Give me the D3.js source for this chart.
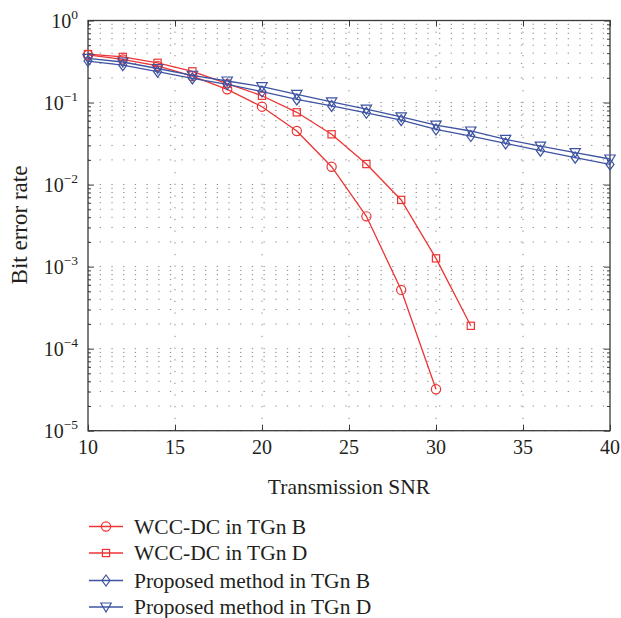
<!DOCTYPE html>
<meta charset="utf-8">
<script src="https://d3js.org/d3.v7.min.js"></script>
<style>
body { margin: 0; background: #fff; }
text { font-family: "Liberation Serif", "DejaVu Serif", serif; fill: #231f20; }
</style>
<div id="chart"></div>
<script>
// data
var snrLong = [10, 12, 14, 16, 18, 20, 22, 24, 26, 28, 30, 32, 34, 36, 38, 40];
var wccB = [0.38, 0.335, 0.28, 0.21, 0.145, 0.089, 0.045, 0.0165, 0.0041, 0.00052, 0.000032];
var wccD = [0.39, 0.36, 0.305, 0.24, 0.17, 0.121, 0.076, 0.041, 0.0178, 0.0065, 0.00126, 0.00019];
var propB = [0.32, 0.285, 0.238, 0.197, 0.167, 0.136, 0.109, 0.091, 0.075, 0.061, 0.047, 0.039, 0.0318, 0.0259, 0.0213, 0.0176];
var propD = [0.345, 0.312, 0.26, 0.215, 0.183, 0.156, 0.126, 0.102, 0.083, 0.067, 0.053, 0.045, 0.0356, 0.0295, 0.0245, 0.0205];
var seriesNames = ["WCC-DC in TGn B", "WCC-DC in TGn D", "Proposed method in TGn B", "Proposed method in TGn D"];
var xTicks = [10, 15, 20, 25, 30, 35, 40];
var yDecades = [-5, -4, -3, -2, -1, 0];

var red = "#ec3434", blue = "#3e54a3";
var series = [
  {name: seriesNames[0], vals: wccB, color: red, marker: "circle"},
  {name: seriesNames[1], vals: wccD, color: red, marker: "square"},
  {name: seriesNames[2], vals: propB, color: blue, marker: "diamond"},
  {name: seriesNames[3], vals: propD, color: blue, marker: "triangle"}
];

var W = 621, H = 618;
var pl = 88, pr = 610, pt = 20.5, pb = 430.7;

var svg = d3.select("#chart").append("svg")
  .attr("width", W).attr("height", H);

var x = d3.scaleLinear().domain([10, 40]).range([pl, pr]);
var y = d3.scaleLog().domain([1e-5, 1]).range([pb, pt]);

var majorY = yDecades.map(function(e) { return Math.pow(10, e); });
var minorY = [];
yDecades.slice(0, -1).forEach(function(e) {
  for (var k = 2; k <= 9; k++) minorY.push(k * Math.pow(10, e));
});

// grid
var grid = svg.append("g").attr("stroke", "#8a8a8a").attr("stroke-width", 1)
  .attr("stroke-dasharray", "1.3,10.4");
grid.selectAll("line.h").data(majorY.concat(minorY)).enter().append("line")
  .attr("x1", pl).attr("x2", pr)
  .attr("y1", function(d) { return y(d); }).attr("y2", function(d) { return y(d); });
grid.selectAll("line.v").data(xTicks.slice(1, -1)).enter().append("line")
  .attr("x1", function(d) { return x(d); }).attr("x2", function(d) { return x(d); })
  .attr("y1", pb).attr("y2", pt);

// axes (ticks inward, box)
var axisColor = "#3a3a3a";
function styleAxis(g) {
  g.select(".domain").remove();
  g.selectAll(".tick line").attr("stroke", axisColor);
  g.selectAll(".tick text").remove();
}
svg.append("g").attr("transform", "translate(" + pl + ",0)")
  .call(d3.axisLeft(y).tickValues(majorY).tickSize(-6)).call(styleAxis);
svg.append("g").attr("transform", "translate(" + pl + ",0)")
  .call(d3.axisLeft(y).tickValues(minorY).tickSize(-3)).call(styleAxis);
svg.append("g").attr("transform", "translate(" + pr + ",0)")
  .call(d3.axisRight(y).tickValues(majorY).tickSize(-6)).call(styleAxis);
svg.append("g").attr("transform", "translate(" + pr + ",0)")
  .call(d3.axisRight(y).tickValues(minorY).tickSize(-3)).call(styleAxis);
svg.append("g").attr("transform", "translate(0," + pb + ")")
  .call(d3.axisBottom(x).tickValues(xTicks).tickSize(-6)).call(styleAxis);
svg.append("g").attr("transform", "translate(0," + pt + ")")
  .call(d3.axisTop(x).tickValues(xTicks).tickSize(-6)).call(styleAxis);

svg.append("rect")
  .attr("x", pl).attr("y", pt)
  .attr("width", pr - pl).attr("height", pb - pt)
  .attr("fill", "none").attr("stroke", axisColor).attr("stroke-width", 1.3);

// tick labels
svg.selectAll("text.xt").data(xTicks).enter().append("text")
  .attr("x", function(d) { return x(d); })
  .attr("y", pb + 23.5)
  .attr("text-anchor", "middle")
  .attr("font-size", 20)
  .text(function(d) { return d; });

var yl = svg.selectAll("text.yt").data(yDecades).enter().append("text")
  .attr("x", 78)
  .attr("y", function(d) { return y(Math.pow(10, d)) + 7.5; })
  .attr("text-anchor", "end")
  .attr("font-size", 20);
yl.append("tspan").text("10");
yl.append("tspan").attr("dy", -9).attr("font-size", 13.5)
  .text(function(d) { return d === 0 ? "0" : "\u2212" + (-d); });

// axis titles
svg.append("text")
  .attr("x", (pl + pr) / 2).attr("y", 494)
  .attr("text-anchor", "middle").attr("font-size", 21.5)
  .text("Transmission SNR");
svg.append("text")
  .attr("transform", "translate(27," + 225 + ") rotate(-90)")
  .attr("text-anchor", "middle").attr("font-size", 23)
  .text("Bit error rate");

// markers
function drawMarker(g, type, cx, cy) {
  if (type === "circle") {
    g.append("circle").attr("cx", cx).attr("cy", cy).attr("r", 4.6);
  } else if (type === "square") {
    g.append("rect").attr("x", cx - 3.6).attr("y", cy - 3.6).attr("width", 7.2).attr("height", 7.2);
  } else if (type === "diamond") {
    g.append("path").attr("d", "M" + cx + "," + (cy - 5.5) + "L" + (cx + 4) + "," + cy +
      "L" + cx + "," + (cy + 5.5) + "L" + (cx - 4) + "," + cy + "Z");
  } else {
    g.append("path").attr("d", "M" + (cx - 5.2) + "," + (cy - 4) + "L" + (cx + 5.2) + "," + (cy - 4) +
      "L" + cx + "," + (cy + 5) + "Z");
  }
}

var line = d3.line()
  .x(function(d, i) { return x(snrLong[i]); })
  .y(function(d) { return y(d); });

series.forEach(function(s) {
  var g = svg.append("g");
  g.append("path").datum(s.vals)
    .attr("d", line)
    .attr("fill", "none").attr("stroke", s.color).attr("stroke-width", 1.3);
  var mg = g.append("g").attr("fill", "none").attr("stroke", s.color).attr("stroke-width", 1.2);
  s.vals.forEach(function(v, i) { drawMarker(mg, s.marker, x(snrLong[i]), y(v)); });
});

// legend
var legY = [526.5, 553, 580.5, 607];
series.forEach(function(s, i) {
  var g = svg.append("g");
  g.append("line").attr("x1", 89).attr("x2", 123)
    .attr("y1", legY[i]).attr("y2", legY[i])
    .attr("stroke", s.color).attr("stroke-width", 1.3);
  var mg = g.append("g").attr("fill", "none").attr("stroke", s.color).attr("stroke-width", 1.2);
  drawMarker(mg, s.marker, 106, legY[i]);
  g.append("text").attr("x", 134).attr("y", legY[i] + 7)
    .attr("font-size", 21.5).text(s.name);
});
</script>
